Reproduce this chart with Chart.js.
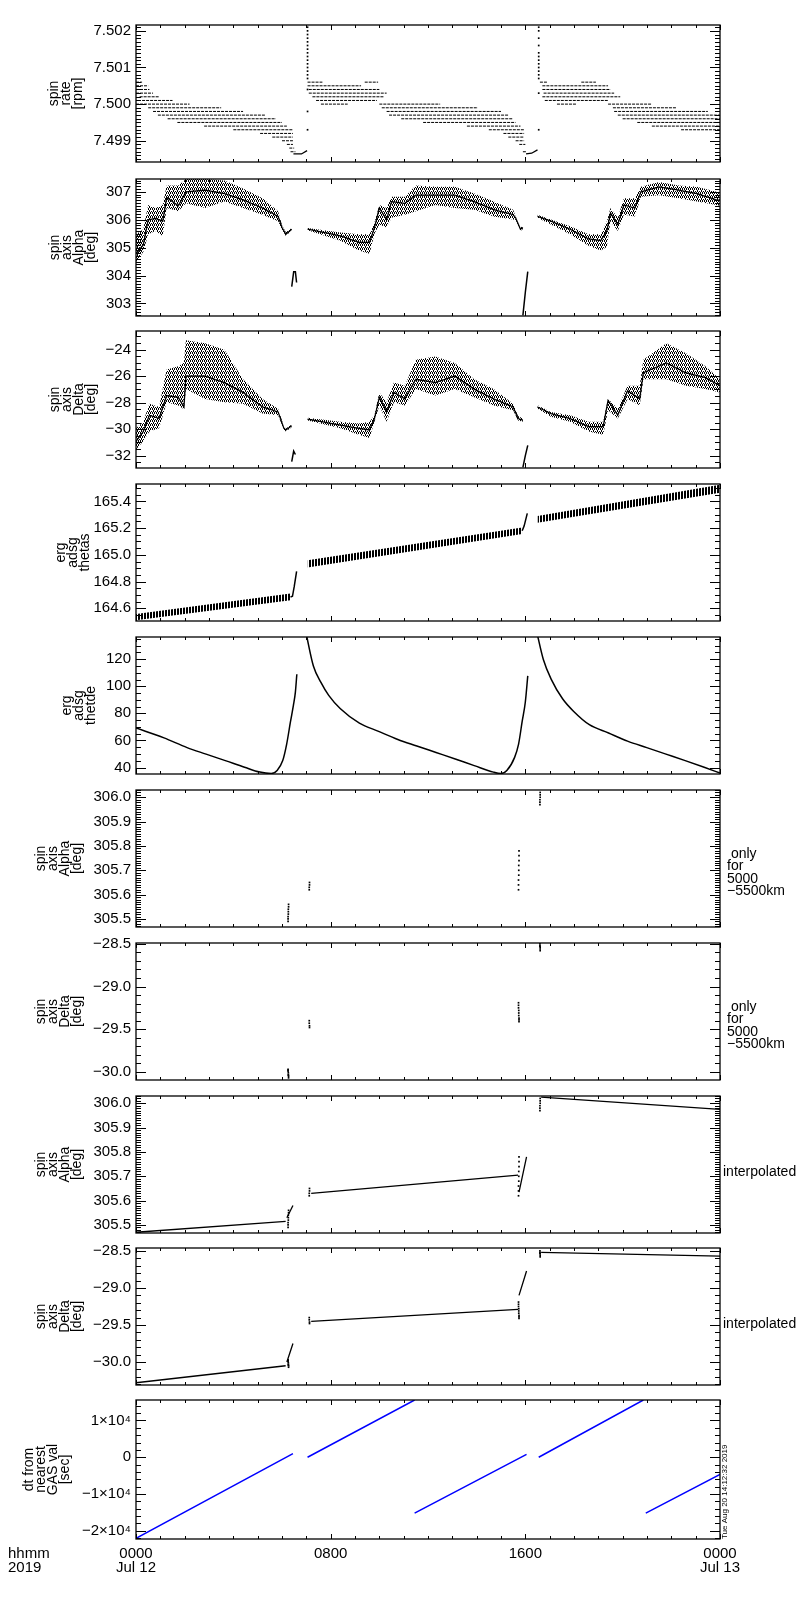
<!DOCTYPE html>
<html>
<head>
<meta charset="utf-8">
<script src="https://cdn.jsdelivr.net/npm/chart.js@4.4.1/dist/chart.umd.min.js"></script>
<style>
  html, body { margin: 0; padding: 0; background: #fff; }
  #wrap { position: relative; width: 800px; height: 1600px; }
  #wrap canvas { position: absolute; left: 0; }
</style>
</head>
<body>
<div id="wrap"></div>
<script>
const FONT = '"Liberation Sans", Arial, sans-serif';

// time axis (hours of Jul 12 2019)
const hours = [0, 8, 16, 24];
const hourLabels = [['0000', 'Jul 12'], '0800', '1600', ['0000', 'Jul 13']];

// y tick values per panel
const rateTicks = [7.499, 7.500, 7.501, 7.502];
const alphaTicks = [303, 304, 305, 306, 307];
const deltaTicks = [-32, -30, -28, -26, -24];
const thetasTicks = [164.6, 164.8, 165.0, 165.2, 165.4];
const thetdeTicks = [40, 60, 80, 100, 120];
const fineAlphaTicks = [305.5, 305.6, 305.7, 305.8, 305.9, 306.0];
const fineDeltaTicks = [-30.0, -29.5, -29.0, -28.5];
const dtTicks = [-20000, -10000, 0, 10000];

// panel 1: spin rate [rpm], quantised runs
const rateLevel = [
  7.5006, 7.5005, 7.5004, 7.5003, 7.5002, 7.5001, 7.5000, 7.4999, 7.4998, 7.4997, 7.4996, 7.4995, 7.4994, 7.4993, 7.4992, 7.4991, 7.4990, 7.4989, 7.4988, 7.4987,
  7.5006, 7.5006, 7.5005, 7.5004, 7.5003, 7.5002, 7.5001, 7.5000, 7.5000, 7.4999, 7.4998, 7.4997, 7.4996, 7.4995, 7.4994, 7.4993, 7.4992, 7.4991, 7.4990, 7.4989, 7.4987,
  7.5006, 7.5006, 7.5005, 7.5004, 7.5003, 7.5002, 7.5001, 7.5000, 7.5000, 7.4999, 7.4998, 7.4997, 7.4996, 7.4995, 7.4994, 7.4993
];
const rateStart = [
  0, 0, 0, 0, 0.15, 0.25, 0, 0.5, 0.7, 0.9, 1.3, 1.7, 2.8, 4.0, 5.1, 5.6, 6.0, 6.2, 6.3, 6.35,
  7.05, 9.4, 7.05, 7.1, 7.1, 7.25, 7.4, 7.6, 10.0, 10.1, 10.3, 10.4, 10.9, 11.8, 13.6, 14.5, 15.1, 15.3, 15.6, 15.75, 15.9,
  16.6, 18.3, 16.7, 16.7, 16.75, 16.7, 16.8, 17.3, 19.4, 19.6, 19.65, 19.8, 20.0, 20.6, 21.2, 22.4
];
const rateEnd = [
  0.25, 0.5, 0.55, 0.7, 0.95, 1.5, 2.2, 3.5, 4.4, 5.3, 5.75, 6.0, 6.2, 6.45, 6.45, 6.45, 6.45, 6.45, 6.5, 6.55,
  7.66, 9.95, 9.25, 10.0, 10.3, 10.2, 9.9, 8.7, 12.5, 14.05, 15.0, 15.3, 15.5, 15.6, 15.8, 15.95, 15.95, 15.95, 15.95, 16.0, 16.05,
  16.9, 18.9, 19.4, 19.5, 19.65, 19.9, 19.4, 18.1, 21.2, 22.2, 23.5, 24, 24, 24, 24, 24
];
const rateSpikeT = [7.05, 16.55];
const rateSpike1 = [7.5021, 7.5020, 7.5019, 7.5018, 7.5017, 7.5016, 7.5015, 7.5014, 7.5013, 7.5012, 7.5011, 7.5010, 7.5009, 7.5008, 7.5007, 7.5004, 7.4998, 7.4993];
const rateSpike2 = [7.5021, 7.5020, 7.5018, 7.5016, 7.5014, 7.5013, 7.5012, 7.5011, 7.5010, 7.5009, 7.5008, 7.5007, 7.5003, 7.4993];
const rateHookT = [6.47, 6.8, 7.03, null, 16.03, 16.26, 16.5];
const rateHookV = [7.49864, 7.49864, 7.49873, null, 7.49864, 7.49866, 7.49875];

// panel 2: spin axis alpha [deg], scatter cloud envelope + core
const alphaT = [0, 0.3, 0.5, 0.8, 1.1, 1.26, 1.74, 2.05, 2.84, 3.63, 4.4, 5.2, 5.84, 6.0, 6.16, 6.4, null,
  7.05, 8.4, 9.16, 9.6, 9.8, 10.0, 10.3, 10.5, 11.05, 11.5, 12.3, 13.1, 13.9, 14.7, 15.5, 15.6, 15.8, 15.9, null,
  16.5, 17.05, 17.84, 18.6, 19.1, 19.35, 19.5, 19.8, 20.05, 20.5, 20.75, 21.5, 22.3, 23.05, 23.85, 24];
const alphaHi = [305.48, 305.66, 306.53, 306.42, 306.53, 307.23, 307.23, 307.46, 307.46, 307.41, 307.12, 306.77, 306.30, 305.80, 305.55, 305.70, null,
  305.70, 305.54, 305.48, 305.48, 305.90, 306.53, 306.42, 306.82, 306.82, 307.23, 307.18, 307.18, 306.94, 306.65, 306.36, 306.12, 305.72, 305.77, null,
  306.18, 306.01, 305.77, 305.48, 305.48, 305.95, 306.42, 306.07, 306.77, 306.77, 307.18, 307.35, 307.23, 307.18, 307.00, 306.98];
const alphaLo = [304.49, 304.84, 305.48, 305.60, 305.42, 306.42, 306.30, 306.59, 306.42, 306.65, 306.42, 306.18, 305.95, 305.65, 305.42, 305.62, null,
  305.62, 305.25, 304.90, 304.78, 305.50, 305.83, 305.72, 306.07, 306.18, 306.30, 306.53, 306.42, 306.36, 306.12, 306.01, 306.00, 305.60, 305.66, null,
  306.07, 305.83, 305.48, 305.07, 304.90, 305.02, 305.95, 305.60, 306.18, 306.12, 306.82, 306.88, 306.77, 306.65, 306.53, 306.50];
const alphaMid = [304.78, 305.10, 306.00, 306.05, 305.95, 306.80, 306.50, 307.00, 307.06, 306.94, 306.71, 306.42, 306.12, 305.72, 305.48, 305.66, null,
  305.66, 305.42, 305.19, 305.19, 305.72, 306.42, 306.00, 306.65, 306.59, 306.88, 306.88, 306.88, 306.65, 306.36, 306.18, 306.07, 305.66, 305.72, null,
  306.12, 305.95, 305.66, 305.31, 305.25, 305.60, 306.24, 305.83, 306.53, 306.42, 307.00, 307.18, 307.06, 306.94, 306.71, 306.70];
const alphaLowT = [6.4, 6.48, 6.55, 6.6, null, 15.9, 16.0, 16.1];
const alphaLowV = [303.6, 304.14, 304.14, 303.75, null, 302.57, 303.4, 304.14];

// panel 3: spin axis delta [deg]
const deltaT = [0, 0.3, 0.55, 0.95, 1.26, 1.74, 1.97, 2.05, 2.84, 3.63, 4.4, 5.2, 5.84, 6.08, 6.16, 6.4, null,
  7.05, 8.4, 9.16, 9.6, 9.8, 10.0, 10.3, 10.6, 11.05, 11.5, 12.3, 13.1, 13.9, 14.7, 15.5, 15.7, 15.9, null,
  16.5, 17.05, 17.84, 18.6, 19.2, 19.4, 19.8, 20.2, 20.7, 20.85, 21.8, 22.6, 23.4, 24];
const deltaHi = [-29.94, -29.44, -28.09, -28.33, -25.50, -25.26, -25.00, -23.29, -23.53, -24.02, -26.24, -27.72, -28.46, -29.80, -29.95, -29.65, null,
  -29.15, -29.44, -29.57, -29.44, -28.95, -27.23, -27.97, -26.49, -26.73, -24.76, -24.52, -25.01, -26.24, -26.98, -28.09, -29.00, -29.20, null,
  -28.20, -28.70, -28.95, -29.44, -29.44, -27.72, -28.46, -26.73, -26.73, -24.76, -23.53, -24.27, -25.26, -26.24];
const deltaLo = [-31.54, -30.92, -30.18, -29.94, -27.97, -28.21, -28.50, -26.98, -27.72, -27.97, -28.09, -28.83, -28.95, -30.05, -30.18, -29.85, null,
  -29.35, -29.94, -30.43, -30.67, -29.45, -28.21, -29.44, -27.97, -28.21, -26.98, -27.47, -26.98, -27.60, -28.21, -28.58, -29.35, -29.45, null,
  -28.45, -29.07, -29.44, -30.18, -30.43, -28.58, -29.20, -27.72, -28.21, -26.24, -26.24, -26.73, -26.98, -27.23];
const deltaMid = [-30.92, -30.18, -28.95, -29.20, -27.47, -27.60, -28.33, -26.00, -26.00, -26.49, -27.23, -28.33, -28.70, -29.94, -30.06, -29.74, null,
  -29.25, -29.69, -29.94, -30.06, -29.20, -27.60, -28.70, -27.23, -27.72, -26.24, -26.49, -26.00, -26.98, -27.72, -28.33, -29.20, -29.32, null,
  -28.33, -28.83, -29.20, -29.81, -29.81, -27.84, -28.95, -27.10, -27.72, -25.75, -25.01, -25.75, -26.12, -26.73];
const deltaLowT = [6.4, 6.48, 6.55, null, 15.9, 16.0, 16.1];
const deltaLowV = [-32.45, -31.66, -31.91, null, -32.89, -32.0, -31.22];

// panel 4: erg adsg thetas
const thetasT = [0, 6.35, null, 7.05, 15.87, null, 16.5, 24];
const thetasHi = [164.558, 164.71, null, 164.96, 165.205, null, 165.29, 165.525];
const thetasLo = [164.51, 164.66, null, 164.905, 165.155, null, 165.24, 165.465];
const thetasJumpT = [6.35, 6.43, 6.5, 6.6, null, 15.87, 15.95, 16.08];
const thetasJumpV = [164.685, 164.69, 164.76, 164.876, null, 165.18, 165.215, 165.31];

// panel 5: erg adsg thetde
const thetdeT = [0, 1.15, 2.1, 2.88, 3.67, 4.46, 5.09, 5.56, 5.8, 6.03, 6.19, 6.35, 6.47, 6.55, 6.61, null,
  6.98, 7.29, 7.6, 7.92, 8.39, 9.18, 9.97, 10.76, 11.54, 12.33, 13.12, 13.9, 14.69, 15.0, 15.24, 15.56, 15.72, 15.87, 16.0, 16.1, null,
  16.47, 16.74, 17.06, 17.53, 18.0, 18.63, 19.42, 20.2, 20.99, 21.78, 22.57, 23.35, 24];
const thetdeV = [69.2, 61.9, 54.7, 49.9, 45.1, 40.2, 36.6, 35.6, 37.8, 45.1, 57.1, 74, 86, 95.7, 108.9, null,
  140, 115, 102.9, 93.3, 83.6, 72.8, 66.7, 60.7, 55.9, 51.1, 46.3, 41.4, 36.6, 35.6, 37.8, 47.5, 57.1, 74, 88.4, 107.7, null,
  140, 119.8, 105.3, 90.8, 81.2, 71.6, 65.5, 59.5, 54.7, 49.9, 45.1, 40.2, 35.9];

// panels 6/7: GAS-derived spin axis, only for 5000-5500 km
const gasT = [6.25, 6.25, 6.25, 6.26, 6.26, 6.26, 6.27, 6.27, 7.12, 7.12, 7.13, 7.13,
  15.72, 15.72, 15.72, 15.73, 15.73, 15.73, 15.74, 15.74, 15.74, 16.6, 16.6, 16.6, 16.61, 16.61, 16.61];
const gasAlpha = [305.49, 305.50, 305.51, 305.52, 305.53, 305.54, 305.55, 305.56, 305.62, 305.63, 305.64, 305.65,
  305.62, 305.64, 305.66, 305.68, 305.70, 305.72, 305.74, 305.76, 305.78, 305.97, 305.98, 305.99, 306.00, 306.01, 306.02];
const gasDelta = [-29.97, -29.98, -29.99, -30.01, -30.03, -30.04, -30.05, -30.07, -29.40, -29.43, -29.46, -29.48,
  -29.19, -29.22, -29.25, -29.28, -29.31, -29.34, -29.37, -29.39, -29.41, -28.50, -28.52, -28.53, -28.54, -28.56, -28.58];

// panels 8/9: interpolated spin axis
const interpT = [0, 6.15, null, 6.2, 6.45, null, 7.2, 15.7, null, 15.74, 16.05, null, 16.65, 24];
const interpAlpha = [305.47, 305.515, null, 305.53, 305.58, null, 305.63, 305.705, null, 305.635, 305.78, null, 306.025, 305.975];
const interpDelta = [-30.28, -30.05, null, -30.0, -29.75, null, -29.45, -29.29, null, -29.1, -28.77, null, -28.52, -28.57];

// panel 10: dt from nearest GAS value [sec]
const dtT = [0, 6.45, null, 7.05, 11.45, null, 11.45, 16.05, null, 16.55, 20.85, null, 20.95, 24];
const dtV = [-22050, 1000, null, 0, 15560, null, -15200, 800, null, 0, 15560, null, -15200, -4700];

// ---------------------------------------------------------------
const panelTop = [23, 177, 329, 482, 635, 788, 941, 1094, 1246, 1398];
const PH = 141;
const PAD = 12;

function tilePattern(w, h, dots) {
  const t = document.createElement('canvas');
  t.width = w; t.height = h;
  const c = t.getContext('2d');
  c.fillStyle = '#000';
  dots.forEach(([px, py]) => c.fillRect(px, py, 1, 1));
  return c.createPattern(t, 'repeat');
}
const stipple = tilePattern(4, 4, [[0, 0], [2, 0], [1, 1], [3, 2], [0, 3], [2, 3], [1, 2]]);
const hatch = tilePattern(3, 1, [[0, 0], [1, 0]]);

function pts(ts, vs) {
  return ts.map((t, i) => (t === null ? {x: ts[i - 1], y: null} : {x: t, y: vs[i]}));
}
function lineSet(ts, vs, extra) {
  return Object.assign({data: pts(ts, vs), borderColor: '#000', borderWidth: 1, pointRadius: 0, fill: false}, extra);
}
function dotSet(ts, vs) {
  return {data: pts(ts, vs), showLine: false, pointRadius: 1.2, pointStyle: 'rect',
    pointBackgroundColor: '#000', pointBorderWidth: 0, borderColor: 'transparent'};
}
// one filled band per run between nulls
function bandSets(ts, hi, lo, fillStyle) {
  const out = [];
  let a = 0;
  for (let i = 0; i <= ts.length; i++) {
    if (i === ts.length || ts[i] === null) {
      const t = ts.slice(a, i);
      out.push(lineSet(t, hi.slice(a, i), {fill: '+1', backgroundColor: fillStyle, borderColor: 'transparent'}));
      out.push(lineSet(t, lo.slice(a, i), {borderColor: 'transparent'}));
      a = i + 1;
    }
  }
  return out;
}
const minus = s => s.replace('-', '\u2212');
const fixed = d => v => minus(Number(v).toFixed(d));

// IDL-style frame, inward ticks and side notes
const idlAxes = {
  id: 'idlAxes',
  afterDraw(chart, args, o) {
    const {ctx, chartArea: a} = chart;
    const x = chart.scales.x, y = chart.scales.y;
    ctx.save();
    ctx.strokeStyle = '#000';
    ctx.lineWidth = 1;
    ctx.beginPath();
    for (let h = 0; h <= 24; h++) {
      const px = Math.round(x.getPixelForValue(h)) + 0.5;
      const len = h % 8 === 0 ? 5 : 3;
      ctx.moveTo(px, a.bottom); ctx.lineTo(px, a.bottom - len);
      ctx.moveTo(px, a.top); ctx.lineTo(px, a.top + len);
    }
    const n0 = Math.ceil(y.min / o.minor - 1e-6), n1 = Math.floor(y.max / o.minor + 1e-6);
    for (let k = n0; k <= n1; k++) {
      const v = k * o.minor;
      const r = v / o.major;
      const len = Math.abs(r - Math.round(r)) < 1e-6 ? 10 : 5;
      const py = Math.round(y.getPixelForValue(v)) + 0.5;
      ctx.moveTo(a.left, py); ctx.lineTo(a.left + len, py);
      ctx.moveTo(a.right, py); ctx.lineTo(a.right - len, py);
    }
    ctx.stroke();
    ctx.lineWidth = 1.3;
    ctx.strokeRect(a.left, a.top, a.right - a.left, a.bottom - a.top);

    ctx.fillStyle = '#000';
    ctx.textBaseline = 'middle';
    if (o.side) {
      ctx.font = '14px ' + FONT;
      ctx.textAlign = 'left';
      const cy = (a.top + a.bottom) / 2 + o.sideDy;
      o.side.forEach((s, j) => ctx.fillText(s, o.sideX, cy + (j - (o.side.length - 1) / 2) * 12.5));
    }
    if (o.last) {
      ctx.font = '15px ' + FONT;
      ctx.textAlign = 'left';
      ctx.fillText('hhmm', 8, a.bottom + 15);
      ctx.fillText('2019', 8, a.bottom + 29);
      ctx.save();
      ctx.translate(725, a.bottom);
      ctx.rotate(-Math.PI / 2);
      ctx.font = '8px ' + FONT;
      ctx.fillText('Tue Aug 20 14:12:32 2019', 0, 0);
      ctx.restore();
    }
    ctx.restore();
  }
};

function makePanel(i, cfg) {
  const last = i === panelTop.length - 1;
  const xAxisH = last ? 48 : 0;
  const cv = document.createElement('canvas');
  cv.width = 800;
  cv.height = PAD + PH + (last ? xAxisH : PAD);
  cv.style.top = (panelTop[i] - PAD) + 'px';
  document.getElementById('wrap').appendChild(cv);
  return new Chart(cv, {
    type: 'line',
    data: {datasets: cfg.datasets},
    options: {
      responsive: false,
      animation: false,
      events: [],
      layout: {padding: {top: PAD, bottom: last ? 0 : PAD, left: 0, right: 80}},
      elements: {point: {radius: 0}, line: {tension: 0}},
      plugins: {
        legend: {display: false},
        tooltip: {enabled: false},
        idlAxes: {major: cfg.major, minor: cfg.minor, side: cfg.side, sideDy: cfg.sideDy, sideX: cfg.sideX, last}
      },
      scales: {
        x: {
          type: 'linear', min: 0, max: 24, display: last,
          grid: {display: false, drawTicks: false}, border: {display: false},
          afterFit: s => { s.height = xAxisH; },
          afterBuildTicks: s => { s.ticks = hours.map(v => ({value: v})); },
          ticks: {autoSkip: false, maxRotation: 0, padding: 8, color: '#000',
            font: {family: FONT, size: 15, lineHeight: '14px'},
            callback: v => hourLabels[hours.indexOf(v)]}
        },
        y: {
          type: 'linear', min: cfg.min, max: cfg.max,
          grid: {display: false, drawTicks: false}, border: {display: false},
          afterFit: s => { s.width = 136; },
          afterBuildTicks: s => { s.ticks = cfg.ticks.map(v => ({value: v})); },
          ticks: {autoSkip: false, padding: 5, color: '#000',
            font: {family: FONT, size: 15}, callback: cfg.fmt},
          title: {display: true, text: cfg.title, color: '#000',
            font: {family: FONT, size: 14, lineHeight: '12px'},
            padding: {top: cfg.titleX - 6, bottom: 0}}
        }
      }
    },
    plugins: [idlAxes]
  });
}

// panel 1 datasets
const ratePts = [];
rateLevel.forEach((v, k) => {
  ratePts.push({x: rateStart[k], y: v}, {x: rateEnd[k], y: v}, {x: rateEnd[k], y: null});
});

makePanel(0, {
  min: 7.49842, max: 7.50216, ticks: rateTicks, major: 0.001, minor: 0.0001, fmt: fixed(3),
  title: ['spin', 'rate', '[rpm]'], titleX: 54,
  datasets: [
    {data: ratePts, borderColor: '#000', borderWidth: 1, borderDash: [3, 1], pointRadius: 0, fill: false},
    dotSet(rateSpike1.map(() => rateSpikeT[0]), rateSpike1),
    dotSet(rateSpike2.map(() => rateSpikeT[1]), rateSpike2),
    lineSet(rateHookT, rateHookV, {borderWidth: 1.3})
  ]
});

makePanel(1, {
  min: 302.55, max: 307.46, ticks: alphaTicks, major: 1, minor: 0.1, fmt: fixed(0),
  title: ['spin', 'axis', 'Alpha', '[deg]'], titleX: 55,
  datasets: [
    ...bandSets(alphaT, alphaHi, alphaLo, stipple),
    lineSet(alphaT, alphaMid, {borderWidth: 1.3}),
    lineSet(alphaLowT, alphaLowV, {borderWidth: 1.5})
  ]
});

makePanel(2, {
  min: -32.93, max: -22.6, ticks: deltaTicks, major: 2, minor: 0.5, fmt: fixed(0),
  title: ['spin', 'axis', 'Delta', '[deg]'], titleX: 55,
  datasets: [
    ...bandSets(deltaT, deltaHi, deltaLo, stipple),
    lineSet(deltaT, deltaMid, {borderWidth: 1.3}),
    lineSet(deltaLowT, deltaLowV, {borderWidth: 1.5})
  ]
});

makePanel(3, {
  min: 164.505, max: 165.53, ticks: thetasTicks, major: 0.2, minor: 0.05, fmt: fixed(1),
  title: ['erg', 'adsg', 'thetas'], titleX: 61,
  datasets: [
    ...bandSets(thetasT, thetasHi, thetasLo, hatch),
    lineSet(thetasJumpT, thetasJumpV, {borderWidth: 1.5})
  ]
});

makePanel(4, {
  min: 35.2, max: 136.4, ticks: thetdeTicks, major: 20, minor: 5, fmt: fixed(0),
  title: ['erg', 'adsg', 'thetde'], titleX: 67,
  datasets: [lineSet(thetdeT, thetdeV, {borderWidth: 1.5, cubicInterpolationMode: 'monotone'})]
});

makePanel(5, {
  min: 305.467, max: 306.03, ticks: fineAlphaTicks, major: 0.1, minor: 0.01, fmt: fixed(1),
  title: ['spin', 'axis', 'Alpha', '[deg]'], titleX: 41,
  side: [' only', 'for', '5000', '\u22125500km'], sideDy: 14, sideX: 727,
  datasets: [dotSet(gasT, gasAlpha)]
});

makePanel(6, {
  min: -30.095, max: -28.49, ticks: fineDeltaTicks, major: 0.5, minor: 0.1, fmt: fixed(1),
  title: ['spin', 'axis', 'Delta', '[deg]'], titleX: 41,
  side: [' only', 'for', '5000', '\u22125500km'], sideDy: 14, sideX: 727,
  datasets: [dotSet(gasT, gasDelta)]
});

makePanel(7, {
  min: 305.467, max: 306.03, ticks: fineAlphaTicks, major: 0.1, minor: 0.01, fmt: fixed(1),
  title: ['spin', 'axis', 'Alpha', '[deg]'], titleX: 41,
  side: ['interpolated'], sideDy: 8, sideX: 723,
  datasets: [lineSet(interpT, interpAlpha, {borderWidth: 1.3}), dotSet(gasT, gasAlpha)]
});

makePanel(8, {
  min: -30.31, max: -28.46, ticks: fineDeltaTicks, major: 0.5, minor: 0.1, fmt: fixed(1),
  title: ['spin', 'axis', 'Delta', '[deg]'], titleX: 41,
  side: ['interpolated'], sideDy: 8, sideX: 723,
  datasets: [lineSet(interpT, interpDelta, {borderWidth: 1.3}), dotSet(gasT, gasDelta)]
});

makePanel(9, {
  min: -22230, max: 15560, ticks: dtTicks, major: 10000, minor: 2000,
  fmt: v => (v === 0 ? '0' : (v < 0 ? '\u2212' : '') + Math.abs(v / 10000) + '\u00d710\u2074'),
  title: ['dt from', 'nearest', 'GAS val', '[sec]'], titleX: 29,
  datasets: [lineSet(dtT, dtV, {borderColor: '#0000ff', borderWidth: 1.5})]
});
</script>
</body>
</html>
